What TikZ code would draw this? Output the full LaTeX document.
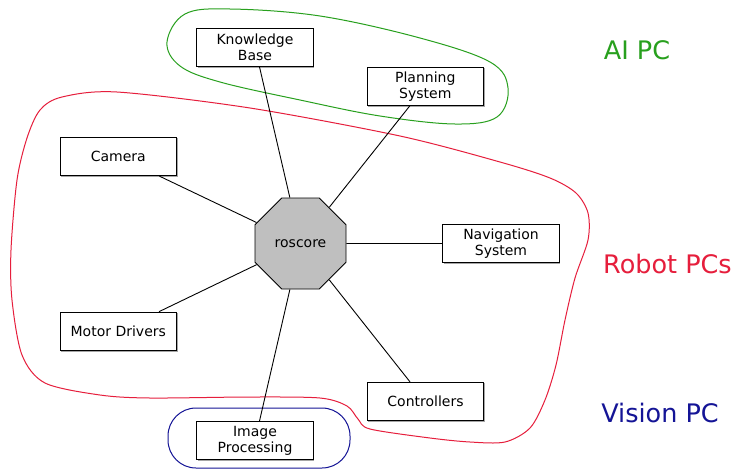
\documentclass[tikz,border=0pt]{standalone}
\usepackage{fontspec}
\setmainfont{DejaVu Sans}
\usetikzlibrary{shapes.geometric,shadows}
\definecolor{aigreen}{RGB}{40,160,30}
\definecolor{robotred}{RGB}{230,30,60}
\definecolor{visionblue}{RGB}{20,20,150}
\begin{document}
\begin{tikzpicture}[x=1pt,y=-1pt,
  box/.style={draw=black, line width=0.9pt, fill=white, minimum width=116.5pt, minimum height=38.4pt,
    inner sep=0pt, align=center, font=\fontsize{14}{16.3}\selectfont,
    drop shadow={shadow xshift=1pt, shadow yshift=-1pt, fill=black!35, opacity=1}},
  core/.style={regular polygon, regular polygon sides=8, minimum size=98.5pt, inner sep=0pt,
    draw=black, line width=0.9pt, fill=black!25, font=\fontsize{14}{16.3}\selectfont},
  link/.style={draw=black, line width=0.9pt},
  group/.style={line width=1pt},
  grouplabel/.style={font=\fontsize{25.5}{30}\selectfont}]
\useasboundingbox[fill=white] (0,0) rectangle (735,469);

% group outlines
\draw[group, aigreen] plot[smooth cycle, tension=0.6] coordinates {
  (185,14) (230,9) (320,16) (420,38) (490,62) (508,88) (497,117) (455,124)
  (380,116) (300,100) (220,82) (180,66) (167,42)};
\draw[group, robotred] plot[smooth cycle, tension=0.5] coordinates {
  (117,92) (250,108) (400,136) (500,162) (550,178) (576,193) (588,213) (588,240)
  (575,278) (565,320) (556,365) (545,400) (530,428) (505,442) (470,442) (430,438)
  (370,429) (358,419) (347,406) (320,398) (250,397) (150,398) (100,395) (45,383)
  (22,355) (12,300) (11,250) (17,180) (27,138) (40,110) (62,97)};
\draw[group, visionblue, rounded corners=28pt] (168,408) rectangle (350,468);

% nodes
\node[core] (ros) at (300.5,243.5) {roscore};
\node[box] (kb) at (255,47.5) {Knowledge\\Base};
\node[box] (plan) at (425.3,86.3) {Planning\\System};
\node[box] (cam) at (118.3,156.5) {Camera};
\node[box] (nav) at (501,243.5) {Navigation\\System};
\node[box] (mot) at (118.3,331.3) {Motor Drivers};
\node[box] (ctl) at (425.5,401.5) {Controllers};
\node[box] (img) at (255,440.5) {Image\\Processing};

% connectors
\foreach \n in {kb,plan,cam,nav,mot,ctl,img}
  \draw[link] (ros) -- (\n);

% group labels
\node[grouplabel, text=aigreen] (ailab) at (637,50) {AI PC};
\node[grouplabel, text=robotred] (robotlab) at (667.5,264) {Robot PCs};
\node[grouplabel, text=visionblue] (visionlab) at (660,413) {Vision PC};
\end{tikzpicture}
\end{document}
